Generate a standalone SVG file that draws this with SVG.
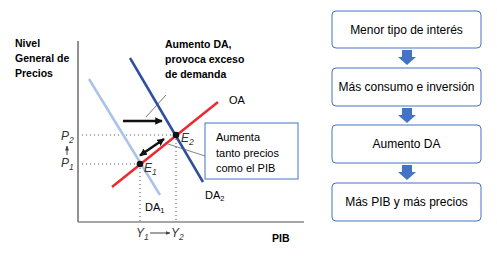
<svg xmlns="http://www.w3.org/2000/svg" width="497" height="259" viewBox="0 0 497 259">
<style>
.t{font-family:"Liberation Sans",Arial,sans-serif;fill:#000}
.b{font-weight:bold;font-size:10.5px}
.r{font-size:11px}
.box{fill:#fff;stroke:#4472C4;stroke-width:1}
.bt{font-family:"Liberation Sans",Arial,sans-serif;font-size:12px;fill:#000;text-anchor:middle}
.it{font-family:"Liberation Sans",Arial,sans-serif;font-style:italic;font-size:12px;fill:#333}
.dot{stroke:#555;stroke-width:1;stroke-dasharray:1 3;fill:none}
.blk{fill:#4472C4}
</style>
<defs>
<marker id="ah" viewBox="0 0 10 10" refX="9" refY="5" markerWidth="3" markerHeight="3" orient="auto-start-reverse"><path d="M0,0 L10,5 L0,10 z" fill="#111"/></marker>
<marker id="as" viewBox="0 0 10 10" refX="9" refY="5" markerWidth="5" markerHeight="5" orient="auto-start-reverse"><path d="M0,1 L10,5 L0,9 z" fill="#444"/></marker>
</defs>
<rect width="497" height="259" fill="#fff"/>

<g id="axes">
<line x1="78" y1="41" x2="78" y2="222" stroke="#555" stroke-width="1.3"/>
<line x1="78" y1="222" x2="304" y2="222" stroke="#888" stroke-width="1.3"/>
</g>

<g id="guides">
<line class="dot" x1="82" y1="135" x2="176" y2="135"/>
<line class="dot" x1="82" y1="164" x2="140" y2="164"/>
<line class="dot" x1="140" y1="164" x2="140" y2="222"/>
<line class="dot" x1="176" y1="135" x2="176" y2="222"/>
</g>

<g id="curves">
<line id="DA1" x1="89" y1="79" x2="160" y2="195" stroke="#A9C4E8" stroke-width="2.5"/>
<line id="DA2" x1="130" y1="58" x2="203" y2="182" stroke="#2F4F9E" stroke-width="2.5"/>
<line id="OA" x1="112" y1="187" x2="218" y2="102" stroke="#EE2A2F" stroke-width="2.5"/>
</g>

<g id="connectors">
<line x1="123" y1="121" x2="162" y2="121" stroke="#111" stroke-width="2.5" marker-end="url(#ah)"/>
<line x1="146" y1="117" x2="166" y2="95" stroke="#555" stroke-width="0.8"/>
<line x1="140" y1="155.5" x2="164" y2="139" stroke="#111" stroke-width="2.5" marker-start="url(#ah)" marker-end="url(#ah)"/>
<line x1="165" y1="143" x2="205" y2="156" stroke="#666" stroke-width="0.8"/>
<line x1="67" y1="155" x2="67" y2="146" stroke="#444" stroke-width="1" marker-end="url(#as)"/>
<line x1="150" y1="233" x2="170" y2="233" stroke="#444" stroke-width="1" marker-end="url(#as)"/>
<path class="blk" d="M402,50 H412 V57 H416 L407,65 L398,57 H402 Z"/>
<path class="blk" d="M402,108 H412 V115 H416 L407,123 L398,115 H402 Z"/>
<path class="blk" d="M402,165 H412 V172 H416 L407,180 L398,172 H402 Z"/>
</g>

<g id="points">
<circle cx="140" cy="164" r="3.3" fill="#111"/>
<circle cx="176" cy="135" r="3.3" fill="#111"/>
</g>

<g id="labels">
<text class="t b" x="15" y="47">Nivel</text>
<text class="t b" x="15" y="62">General de</text>
<text class="t b" x="15" y="77">Precios</text>
<text class="t b" x="165" y="48">Aumento DA,</text>
<text class="t b" x="165" y="63">provoca exceso</text>
<text class="t b" x="165" y="78">de demanda</text>
<text class="t r" x="229" y="104" font-size="11.5">OA</text>
<text class="t r" x="205" y="199">DA<tspan font-size="7.5" dy="2">2</tspan></text>
<text class="t r" x="145" y="211">DA<tspan font-size="7.5" dy="2">1</tspan></text>
<text class="t b" x="272" y="242" font-size="11">PIB</text>
<text class="it" x="61" y="140">P<tspan font-size="8.5" dy="3">2</tspan></text>
<text class="it" x="61" y="167">P<tspan font-size="8.5" dy="3">1</tspan></text>
<text class="it" x="136" y="237">Y<tspan font-size="8.5" dy="3">1</tspan></text>
<text class="it" x="171" y="237">Y<tspan font-size="8.5" dy="3">2</tspan></text>
<text class="it" x="144" y="172">E<tspan font-size="8.5" dy="3">1</tspan></text>
<text class="it" x="181" y="142">E<tspan font-size="8.5" dy="3">2</tspan></text>
</g>

<g id="callout">
<rect class="box" x="205" y="123" width="93" height="56"/>
<text class="t r" x="216" y="141">Aumenta</text>
<text class="t r" x="216" y="157">tanto precios</text>
<text class="t r" x="216" y="172">como el PIB</text>
</g>

<g id="box1"><rect class="box" x="332" y="11" width="149" height="37" rx="4"/><text class="bt" x="406.5" y="34">Menor tipo de interés</text></g>
<g id="box2"><rect class="box" x="332" y="68" width="149" height="38" rx="4"/><text class="bt" x="406.5" y="91">Más consumo e inversión</text></g>
<g id="box3"><rect class="box" x="332" y="125" width="149" height="38" rx="4"/><text class="bt" x="406.5" y="148">Aumento DA</text></g>
<g id="box4"><rect class="box" x="332" y="183" width="149" height="38" rx="4"/><text class="bt" x="406.5" y="206">Más PIB y más precios</text></g>
</svg>
